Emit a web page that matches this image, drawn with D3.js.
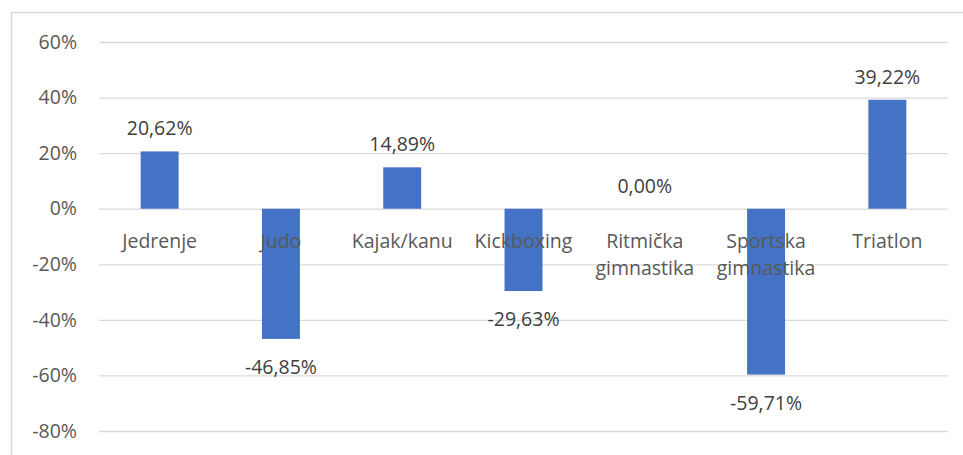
<!DOCTYPE html>
<html>
<head>
<meta charset="utf-8">
<script src="https://cdn.jsdelivr.net/npm/d3@7"></script>
<style>
  body { margin: 0; background: #fff; }
  svg { display: block; }
  text { font-family: "Open Sans", "Noto Sans", sans-serif; }
</style>
</head>
<body>
<svg id="chart" width="963" height="455"></svg>
<script>
  // chart data
  const categories = ['Jedrenje', 'Judo', 'Kajak/kanu', 'Kickboxing', 'Ritmička gimnastika', 'Sportska gimnastika', 'Triatlon'];
  const values = [20.62, -46.85, 14.89, -29.63, 0.00, -59.71, 39.22];
  const yTicks = [-80, -60, -40, -20, 0, 20, 40, 60];

  const BAR_FILL = '#4472C4';
  const GRID_STROKE = '#d9d9d9';
  const AXIS_TEXT = '#595959';
  const LABEL_TEXT = '#404040';
  const FONT_SIZE = 19.5;

  const svg = d3.select('#chart');
  const width = +svg.attr('width');
  const height = +svg.attr('height');

  const plot = { left: 99, right: 948, top: 42, bottom: 431 };

  // chart border
  svg.append('rect')
    .attr('x', 11.5)
    .attr('y', 12.5)
    .attr('width', width)
    .attr('height', height)
    .attr('fill', 'none')
    .attr('stroke', GRID_STROKE)
    .attr('stroke-width', 1.5);

  const x = d3.scaleBand()
    .domain(categories)
    .range([plot.left, plot.right])
    .padding(0);

  const y = d3.scaleLinear()
    .domain([-80, 60])
    .range([plot.bottom, plot.top]);

  const barWidth = x.bandwidth() * 0.313;

  // gridlines + y labels
  const yAxis = d3.axisLeft(y)
    .tickValues(yTicks)
    .tickSize(-(plot.right - plot.left))
    .tickPadding(22)
    .tickFormat(d => d + '%');

  const yg = svg.append('g')
    .attr('transform', `translate(${plot.left},0)`)
    .call(yAxis);
  yg.select('.domain').remove();
  yg.selectAll('.tick line')
    .attr('stroke', GRID_STROKE)
    .attr('stroke-width', 1.3);
  yg.selectAll('.tick text')
    .attr('fill', AXIS_TEXT)
    .attr('font-size', FONT_SIZE);

  // bars
  svg.append('g')
    .selectAll('rect')
    .data(values)
    .join('rect')
    .attr('x', (d, i) => x(categories[i]) + (x.bandwidth() - barWidth) / 2)
    .attr('y', d => y(Math.max(0, d)))
    .attr('width', barWidth)
    .attr('height', d => Math.abs(y(d) - y(0)))
    .attr('fill', BAR_FILL);

  // category labels (below zero line, drawn over bars)
  const catG = svg.append('g');
  categories.forEach((c, i) => {
    const words = c.split(' ');
    const t = catG.append('text')
      .attr('x', x(c) + x.bandwidth() / 2)
      .attr('y', y(0) + 39)
      .attr('text-anchor', 'middle')
      .attr('fill', AXIS_TEXT)
      .attr('font-size', FONT_SIZE);
    words.forEach((w, j) => {
      t.append('tspan')
        .attr('x', x(c) + x.bandwidth() / 2)
        .attr('dy', j === 0 ? 0 : 27)
        .text(w);
    });
  });

  // data labels
  svg.append('g')
    .selectAll('text')
    .data(values)
    .join('text')
    .attr('x', (d, i) => x(categories[i]) + x.bandwidth() / 2)
    .attr('y', d => d >= 0 ? y(d) - 16 : y(d) + 35)
    .attr('text-anchor', 'middle')
    .attr('fill', LABEL_TEXT)
    .attr('font-size', FONT_SIZE)
    .text(d => d.toFixed(2).replace('.', ',') + '%');
</script>
</body>
</html>
